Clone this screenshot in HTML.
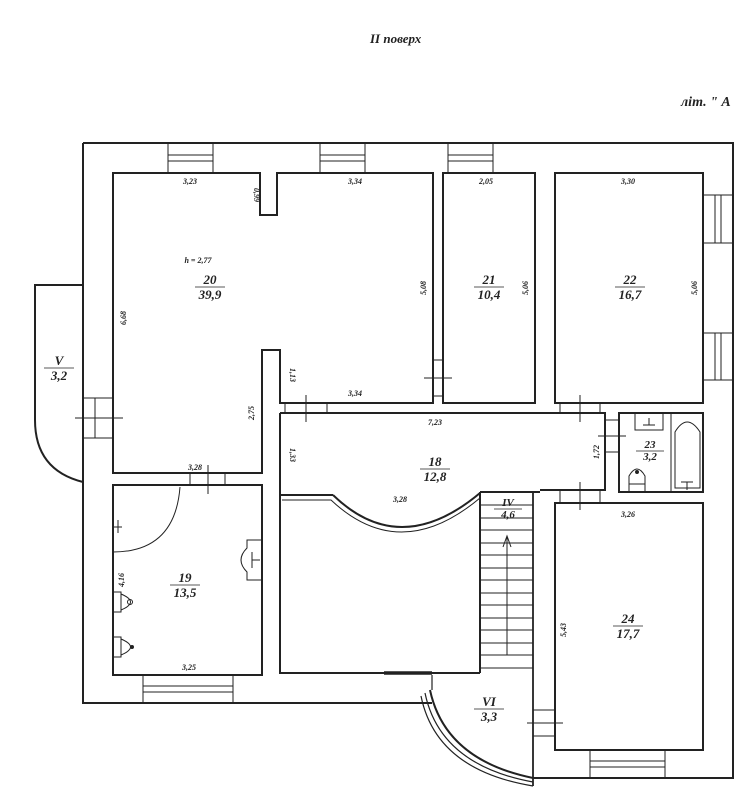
<!DOCTYPE html>
<html><head><meta charset="utf-8"><style>
html,body{margin:0;padding:0;background:#fff;}
svg{display:block;}
text{font-family:"Liberation Serif",serif;font-style:italic;font-weight:bold;fill:#222;}
.d{font-size:8px;font-weight:normal;}
.n{font-size:13px;}
</style></head><body>
<svg width="752" height="800" viewBox="0 0 752 800" xmlns="http://www.w3.org/2000/svg">
<g fill="none" stroke="#222" stroke-width="2">
<!-- outer walls -->
<path d="M83,143 H733 V778 H533"/>
<path d="M83,143 V703 H432"/>
<!-- balcony V -->
<path d="M83,285 H35 V420 Q35,470 83,482"/>
<!-- balcony VI arcs -->
<path d="M430,690 Q445,760 533,778"/>
<path d="M425,693 Q440,765 533,782" stroke-width="1.2"/>
<path d="M421,696 Q436,770 533,786" stroke-width="1.2"/>
<path d="M432,675 V690" stroke-width="1.2"/>
<!-- room 20 -->
<path d="M113,173 H260 V215 H277 V173 H433 V403 H280 V350 H262 V473 H113 Z"/>
<!-- room 21 -->
<rect x="443" y="173" width="92" height="230"/>
<!-- room 22 -->
<rect x="555" y="173" width="148" height="230"/>
<!-- corridor 18 -->
<path d="M280,413 H605 V490 H540"/>
<path d="M280,413 V673 H480"/>
<path d="M280,495 H333"/>
<path d="M333,495 Q400,560 480,493" />
<path d="M282,500 H331 Q400,565 480,498" stroke-width="1"/>
<!-- stairs -->
<path d="M480,492 V673"/>
<path d="M480,492 H540"/>
<path d="M533,492 V786" stroke-width="1.8"/>
<!-- room 23 -->
<rect x="619" y="413" width="84" height="79"/>
<!-- room 19 -->
<rect x="113" y="485" width="149" height="190"/>
<!-- room 24 -->
<rect x="555" y="503" width="148" height="247"/>
<path d="M384,673 H432" stroke-width="3.5"/>
</g>
<g fill="none" stroke="#222" stroke-width="1">
<!-- stair treads -->
<path d="M480,505H533M480,518H533M480,530H533M480,543H533M480,555H533M480,568H533M480,580H533M480,593H533M480,605H533M480,618H533M480,630H533M480,643H533M480,655H533M480,668H533"/>
<path d="M507,655 V536 M503,547 L507,536 L511,547"/>
<!-- windows top -->
<rect x="168" y="143" width="45" height="30"/><path d="M168,155H213M168,161H213"/>
<rect x="320" y="143" width="45" height="30"/><path d="M320,155H365M320,161H365"/>
<rect x="448" y="143" width="45" height="30"/><path d="M448,155H493M448,161H493"/>
<!-- windows right -->
<rect x="703" y="195" width="30" height="48"/><path d="M715,195V243M721,195V243"/>
<rect x="703" y="333" width="30" height="47"/><path d="M715,333V380M721,333V380"/>
<!-- windows bottom -->
<rect x="143" y="675" width="90" height="28"/><path d="M143,686H233M143,692H233"/>
<rect x="590" y="750" width="75" height="28"/><path d="M590,761H665M590,767H665"/>
<!-- doors -->
<rect x="83" y="398" width="30" height="40"/><path d="M75,418H123M95,398V438"/>
<rect x="285" y="403" width="42" height="10"/><path d="M306,395V422"/>
<rect x="433" y="360" width="10" height="36"/><path d="M424,378H452"/>
<rect x="560" y="403" width="40" height="10"/><path d="M580,395V422"/>
<rect x="605" y="420" width="14" height="32"/><path d="M598,436H626"/>
<rect x="560" y="490" width="40" height="13"/><path d="M580,482V510"/>
<rect x="190" y="473" width="35" height="12"/><path d="M208,465V494"/>
<rect x="533" y="710" width="22" height="26"/><path d="M527,723H563"/>
<!-- door swing room 19 -->
<path d="M113,552 Q175,552 180,487"/><path d="M118,520V533M113,527H122"/>
<!-- radiator niche -->
<path d="M262,540 H247 V548 Q235,560 247,572 V580 H262"/><path d="M252,552V568M252,560H260"/>
<!-- toilets room 19 -->
<path d="M113,592 H121 V612 H113"/><path d="M121,594 Q140,602 121,610"/><circle cx="130" cy="602" r="2.5"/>
<path d="M113,637 H121 V657 H113"/><path d="M121,639 Q140,647 121,655"/><circle cx="132" cy="647" r="1.5" fill="#222"/>
<!-- room 23 fixtures -->
<rect x="635" y="413" width="28" height="17"/><path d="M643,425H655M649,418V425"/>
<path d="M629,492 V476 Q637,462 645,476 V492"/><circle cx="637" cy="472" r="1.5" fill="#222"/><path d="M629,484H645"/>
<rect x="671" y="413" width="32" height="79"/><path d="M675,488 V432 Q687,412 700,432 V488 Z"/><path d="M681,482H693M687,482V490"/>
</g>
<!-- titles -->
<text x="370" y="43" font-size="13">II поверх</text>
<text x="681" y="106" font-size="14">літ. " А</text>
<!-- room labels -->
<g text-anchor="middle" class="n">
<text x="210" y="284">20</text><text x="210" y="299">39,9</text>
<text x="489" y="284">21</text><text x="489" y="299">10,4</text>
<text x="630" y="284">22</text><text x="630" y="299">16,7</text>
<text x="435" y="466">18</text><text x="435" y="481">12,8</text>
<text x="185" y="582">19</text><text x="185" y="597">13,5</text>
<text x="628" y="623">24</text><text x="628" y="638">17,7</text>
<text x="59" y="365">V</text><text x="59" y="380">3,2</text>
<text x="489" y="706">VI</text><text x="489" y="721">3,3</text>
<text x="508" y="506" font-size="11">IV</text><text x="508" y="518" font-size="11">4,6</text>
<text x="650" y="448" font-size="11">23</text><text x="650" y="460" font-size="11">3,2</text>
</g>
<g stroke="#222" stroke-width="0.8">
<path d="M195,287H225M474,287H504M615,287H645M420,469H450M170,585H200M613,626H643M44,368H74M474,709H504M494,509H522M636,451H664"/>
</g>
<!-- dimensions -->
<g class="d" text-anchor="middle">
<text x="190" y="184">3,23</text>
<text x="355" y="184">3,34</text>
<text x="486" y="184">2,05</text>
<text x="628" y="184">3,30</text>
<text x="355" y="396">3,34</text>
<text x="435" y="425">7,23</text>
<text x="400" y="502">3,28</text>
<text x="195" y="470">3,28</text>
<text x="189" y="670">3,25</text>
<text x="628" y="517">3,26</text>
<text x="198" y="263" fill="#334">h = 2,77</text>
</g>
<g class="d" text-anchor="middle">
<text transform="translate(126,318) rotate(-90)">6,68</text>
<text transform="translate(254,195) rotate(90)">0,99</text>
<text transform="translate(254,413) rotate(-90)">2,75</text>
<text transform="translate(290,375) rotate(90)">1,13</text>
<text transform="translate(290,455) rotate(90)">1,33</text>
<text transform="translate(426,288) rotate(-90)">5,08</text>
<text transform="translate(528,288) rotate(-90)">5,06</text>
<text transform="translate(697,288) rotate(-90)">5,06</text>
<text transform="translate(599,452) rotate(-90)">1,72</text>
<text transform="translate(124,580) rotate(-90)">4,16</text>
<text transform="translate(566,630) rotate(-90)">5,43</text>
</g>
</svg>
</body></html>
